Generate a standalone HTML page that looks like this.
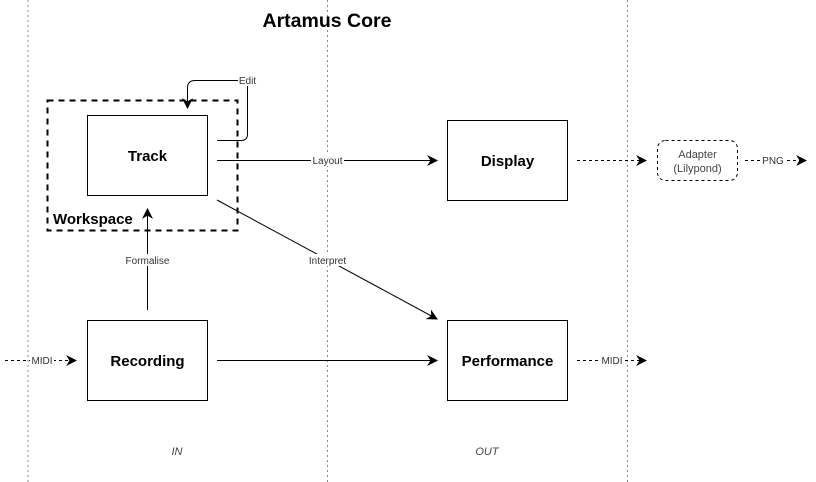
<!DOCTYPE html>
<html><head><style>html,body{margin:0;padding:0;background:#fff;}svg{display:block;}</style></head>
<body>
<svg width="816" height="482" viewBox="0 0 816 482" xmlns="http://www.w3.org/2000/svg" font-family="Liberation Sans, sans-serif">
<defs>
<marker id="a" viewBox="0 0 10 10" refX="9" refY="5" markerWidth="11" markerHeight="11" markerUnits="userSpaceOnUse" orient="auto"><path d="M0,0 L10,5 L0,10 L3,5 z" fill="#000"/></marker>
</defs>
<g stroke="#888" stroke-width="1" stroke-dasharray="2,3">
<line x1="28" y1="0" x2="28" y2="482"/>
<line x1="327.5" y1="0" x2="327.5" y2="482"/>
<line x1="627.5" y1="0" x2="627.5" y2="482"/>
</g>
<text x="327" y="27" font-size="19.5" font-weight="bold" text-anchor="middle">Artamus Core</text>
<rect x="47.5" y="100.5" width="190" height="130" fill="none" stroke="#000" stroke-width="2" stroke-dasharray="6,5"/>
<text x="53" y="224" font-size="15" font-weight="bold">Workspace</text>
<g fill="#fff" stroke="#000" stroke-width="1">
<rect x="87.5" y="115.5" width="120" height="80"/>
<rect x="447.5" y="120.5" width="120" height="80"/>
<rect x="87.5" y="320.5" width="120" height="80"/>
<rect x="447.5" y="320.5" width="120" height="80"/>
</g>
<rect x="657.5" y="140.5" width="80" height="40" rx="8" fill="#fff" stroke="#000" stroke-dasharray="3,3"/>
<g font-size="15" font-weight="bold" text-anchor="middle">
<text x="147.5" y="161">Track</text>
<text x="507.5" y="166">Display</text>
<text x="147.5" y="366">Recording</text>
<text x="507.5" y="366">Performance</text>
</g>
<g font-size="11" fill="#444" text-anchor="middle">
<text x="697.5" y="158">Adapter</text>
<text x="697.5" y="172">(Lilypond)</text>
</g>
<g fill="none" stroke="#000" stroke-width="1">
<path d="M217,140.5 H241 Q247.5,140.5 247.5,134 V80.5 H195 Q187.5,80.5 187.5,88 V108" marker-end="url(#a)"/>
<line x1="217" y1="160.5" x2="437" y2="160.5" marker-end="url(#a)"/>
<line x1="217" y1="200" x2="437" y2="319" marker-end="url(#a)"/>
<line x1="147.5" y1="310" x2="147.5" y2="209" marker-end="url(#a)"/>
<line x1="217" y1="360.5" x2="437" y2="360.5" marker-end="url(#a)"/>
<g stroke-dasharray="3,3">
<line x1="5" y1="360.5" x2="76" y2="360.5" marker-end="url(#a)"/>
<line x1="577" y1="360.5" x2="646" y2="360.5" marker-end="url(#a)"/>
<line x1="577" y1="160.5" x2="646" y2="160.5" marker-end="url(#a)"/>
<line x1="745" y1="160.5" x2="806" y2="160.5" marker-end="url(#a)"/>
</g>
</g>
<g font-size="10" fill="#333" text-anchor="middle">
<rect x="238" y="74" width="19" height="12" fill="#fff"/><text x="247.5" y="84">Edit</text>
<rect x="311" y="154" width="33" height="12" fill="#fff"/><text x="327.5" y="164">Layout</text>
<rect x="306" y="254" width="43" height="12" fill="#fff"/><text x="327.5" y="264">Interpret</text>
<rect x="123" y="254" width="49" height="12" fill="#fff"/><text x="147.5" y="264">Formalise</text>
<rect x="30" y="354" width="24" height="12" fill="#fff"/><text x="42" y="364">MIDI</text>
<rect x="600" y="354" width="24" height="12" fill="#fff"/><text x="612" y="364">MIDI</text>
<rect x="762" y="154" width="22" height="12" fill="#fff"/><text x="773" y="164">PNG</text>
</g>
<g font-size="11" font-style="italic" fill="#444" text-anchor="middle">
<text x="177" y="455">IN</text>
<text x="487" y="455">OUT</text>
</g>
</svg>
</body></html>
